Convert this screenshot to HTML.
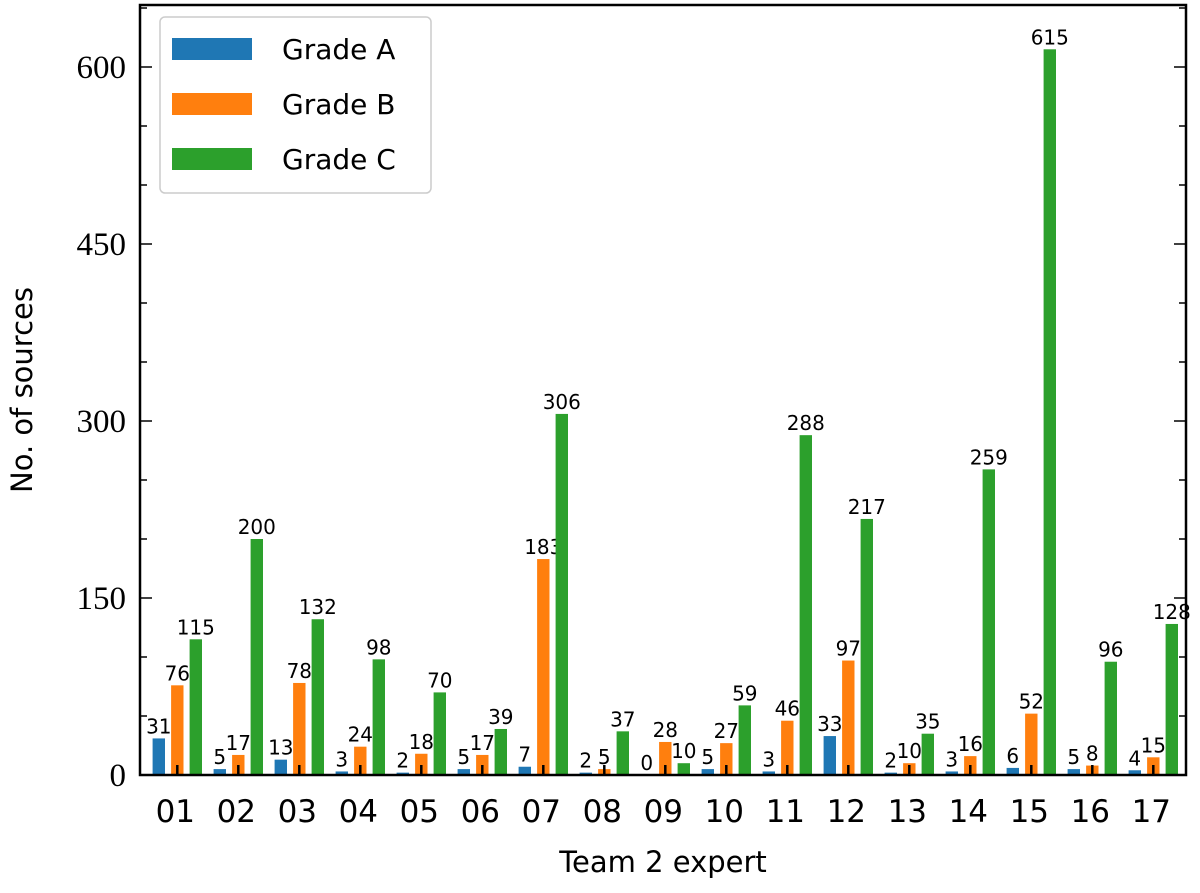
<!DOCTYPE html>
<html><head><meta charset="utf-8"><style>
body{margin:0;background:#fff}
svg text{font-family:"DejaVu Sans","Liberation Sans",sans-serif}
</style></head><body>
<svg id="chart" width="1200" height="888" xmlns="http://www.w3.org/2000/svg"></svg>
<script>
const categories=["01","02","03","04","05","06","07","08","09","10","11","12","13","14","15","16","17"];
const gradeA=[31,5,13,3,2,5,7,2,0,5,3,33,2,3,6,5,4];
const gradeB=[76,17,78,24,18,17,183,5,28,27,46,97,10,16,52,8,15];
const gradeC=[115,200,132,98,70,39,306,37,10,59,288,217,35,259,615,96,128];
const yTicks=[0,150,300,450,600];
const seriesNames=["Grade A","Grade B","Grade C"];
const colors=["#1f77b4","#ff7f0e","#2ca02c"];
const NS="http://www.w3.org/2000/svg";
const svg=document.getElementById('chart');
const L=140,R=1186,T=5,B=775;
const y=v=>B-v*(B-67)/600;
const x=i=>177.3+61.0*i;
function mk(tag,a,p){const e=document.createElementNS(NS,tag);for(const k in a)e.setAttribute(k,a[k]);(p||svg).appendChild(e);return e;}
const series=[gradeA,gradeB,gradeC];
series.forEach((s,si)=>{s.forEach((v,i)=>{
 const cx=x(i)+(si-1)*18.5;
 const r=mk('rect',{x:cx-6.2,y:y(v),width:12.4,height:B-y(v),fill:colors[si]});
 
 
 const t=mk('text',{x:cx,y:y(v)-5,'text-anchor':'middle','font-size':20,fill:'#000'});
 t.textContent=v;
 
 
});});
categories.forEach((c,i)=>{
 const tk=mk('line',{x1:x(i),x2:x(i),y1:B,y2:B-10,stroke:'#000','stroke-width':2.5});
 
 
 const t=mk('text',{x:x(i)-2,y:822,'text-anchor':'middle','font-size':31});
 t.textContent=c;
 
 
});
for(let v=0;v<=650;v+=50){
 const major=v%150===0;const len=major?12:7;
 mk('line',{x1:L,x2:L+len,y1:y(v),y2:y(v),stroke:'#000','stroke-width':1.5});
 mk('line',{x1:R,x2:R-len,y1:y(v),y2:y(v),stroke:'#000','stroke-width':1.5});
}
yTicks.forEach(v=>{
 const t=mk('text',{x:126,y:y(v)+11,'text-anchor':'end','font-size':33});
 t.style.fontFamily='"Liberation Serif",serif';
 t.textContent=v;
 
 
});
const fr=mk('rect',{x:L,y:T,width:R-L,height:B-T,fill:'none',stroke:'#000','stroke-width':2.5});


const xt=mk('text',{x:663,y:872,'text-anchor':'middle','font-size':29});xt.textContent='Team 2 expert';


const yt=mk('text',{x:0,y:0,'text-anchor':'middle','font-size':29,transform:'translate(32,390) rotate(-90)'});yt.textContent='No. of sources';


const lg=mk('g',{});


mk('rect',{x:160,y:17,width:271,height:176,rx:5,fill:'#fff',stroke:'#ccc','stroke-width':1.5},lg);
seriesNames.forEach((n,i)=>{
 const yy=48+i*55;
 const sw=mk('rect',{x:172,y:yy-10,width:80,height:22,fill:colors[i]},lg);
 
 
 const t=mk('text',{x:282,y:yy+11,'font-size':28},lg);t.textContent=n;
 
 
});
</script>
</body></html>
